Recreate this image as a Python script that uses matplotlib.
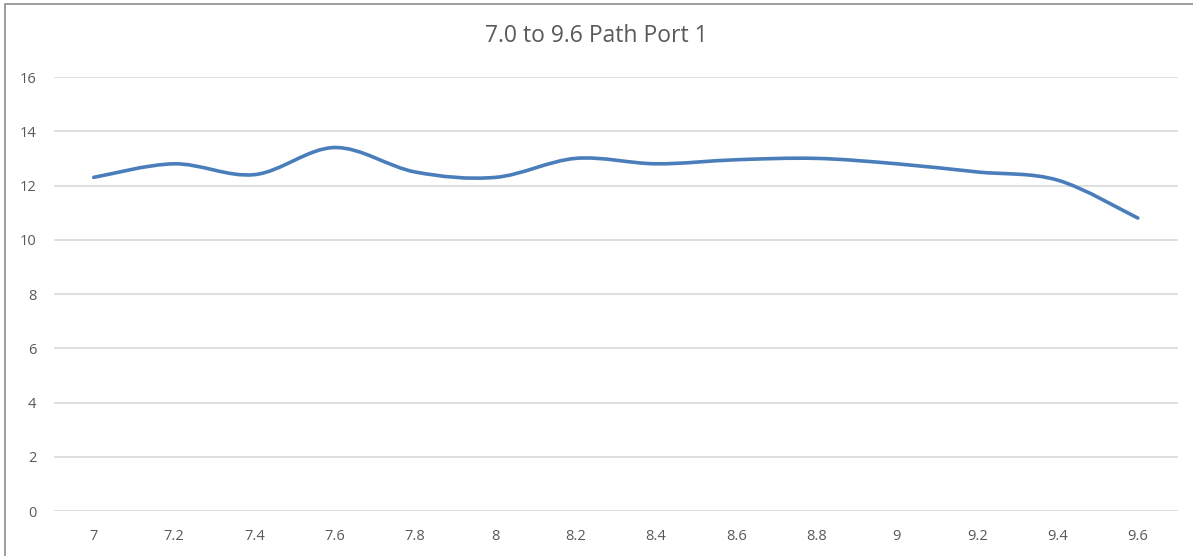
import numpy as np
import matplotlib.pyplot as plt
from matplotlib.path import Path
from matplotlib.patches import PathPatch, Rectangle

plt.rcParams['font.family'] = ['Open Sans', 'DejaVu Sans']

# Data
categories = ['7', '7.2', '7.4', '7.6', '7.8', '8', '8.2', '8.4', '8.6', '8.8', '9', '9.2', '9.4', '9.6']
values = [12.3, 12.8, 12.4, 13.4, 12.5, 12.3, 13.0, 12.8, 12.95, 13.0, 12.8, 12.5, 12.2, 10.8]
y_ticks = [0, 2, 4, 6, 8, 10, 12, 14, 16]
title = '7.0 to 9.6 Path Port 1'

line_color = '#4a7ebb'
text_color = '#595959'
grid_color = '#d9d9d9'


def smooth_path(x, y):
    # Excel-style smoothed line: Catmull-Rom converted to cubic Bezier segments
    pts = np.column_stack([x, y]).astype(float)
    n = len(pts)
    verts = [pts[0]]
    codes = [Path.MOVETO]
    for i in range(n - 1):
        p0 = pts[max(i - 1, 0)]
        p1 = pts[i]
        p2 = pts[i + 1]
        p3 = pts[min(i + 2, n - 1)]
        c1 = p1 + (p2 - p0) / 6
        c2 = p2 - (p3 - p1) / 6
        verts += [c1, c2, p2]
        codes += [Path.CURVE4] * 3
    return Path(verts, codes)


fig = plt.figure(figsize=(11.93, 5.56), dpi=100)
ax = fig.add_axes([0.0449, 0.0809, 0.9425, 0.7806])

x = np.arange(len(categories))
ax.add_patch(PathPatch(smooth_path(x, values), facecolor='none', edgecolor=line_color,
                       lw=2.6, capstyle='round', joinstyle='round', zorder=3))

ax.set_xlim(-0.5, len(categories) - 0.5)
ax.set_ylim(0, 16)
ax.set_yticks(y_ticks)
ax.set_xticks(x)
ax.set_xticklabels(categories)
ax.grid(axis='y', color=grid_color, lw=1.2)
ax.set_axisbelow(True)
ax.tick_params(length=0, labelsize=10.5, colors=text_color)
ax.tick_params(axis='y', pad=12.5)
ax.tick_params(axis='x', pad=13)
for s in ax.spines.values():
    s.set_visible(False)

fig.text(0.5, 0.936, title, ha='center', va='center', fontsize=16.5, color=text_color)

# chart frame
fig.patches.append(Rectangle((5 / 1193, -0.1), 1.2, 1.1 - 4 / 556, transform=fig.transFigure,
                             fill=False, edgecolor='#8c8c8c', lw=1.2))

fig.savefig('out.png', dpi=100)
